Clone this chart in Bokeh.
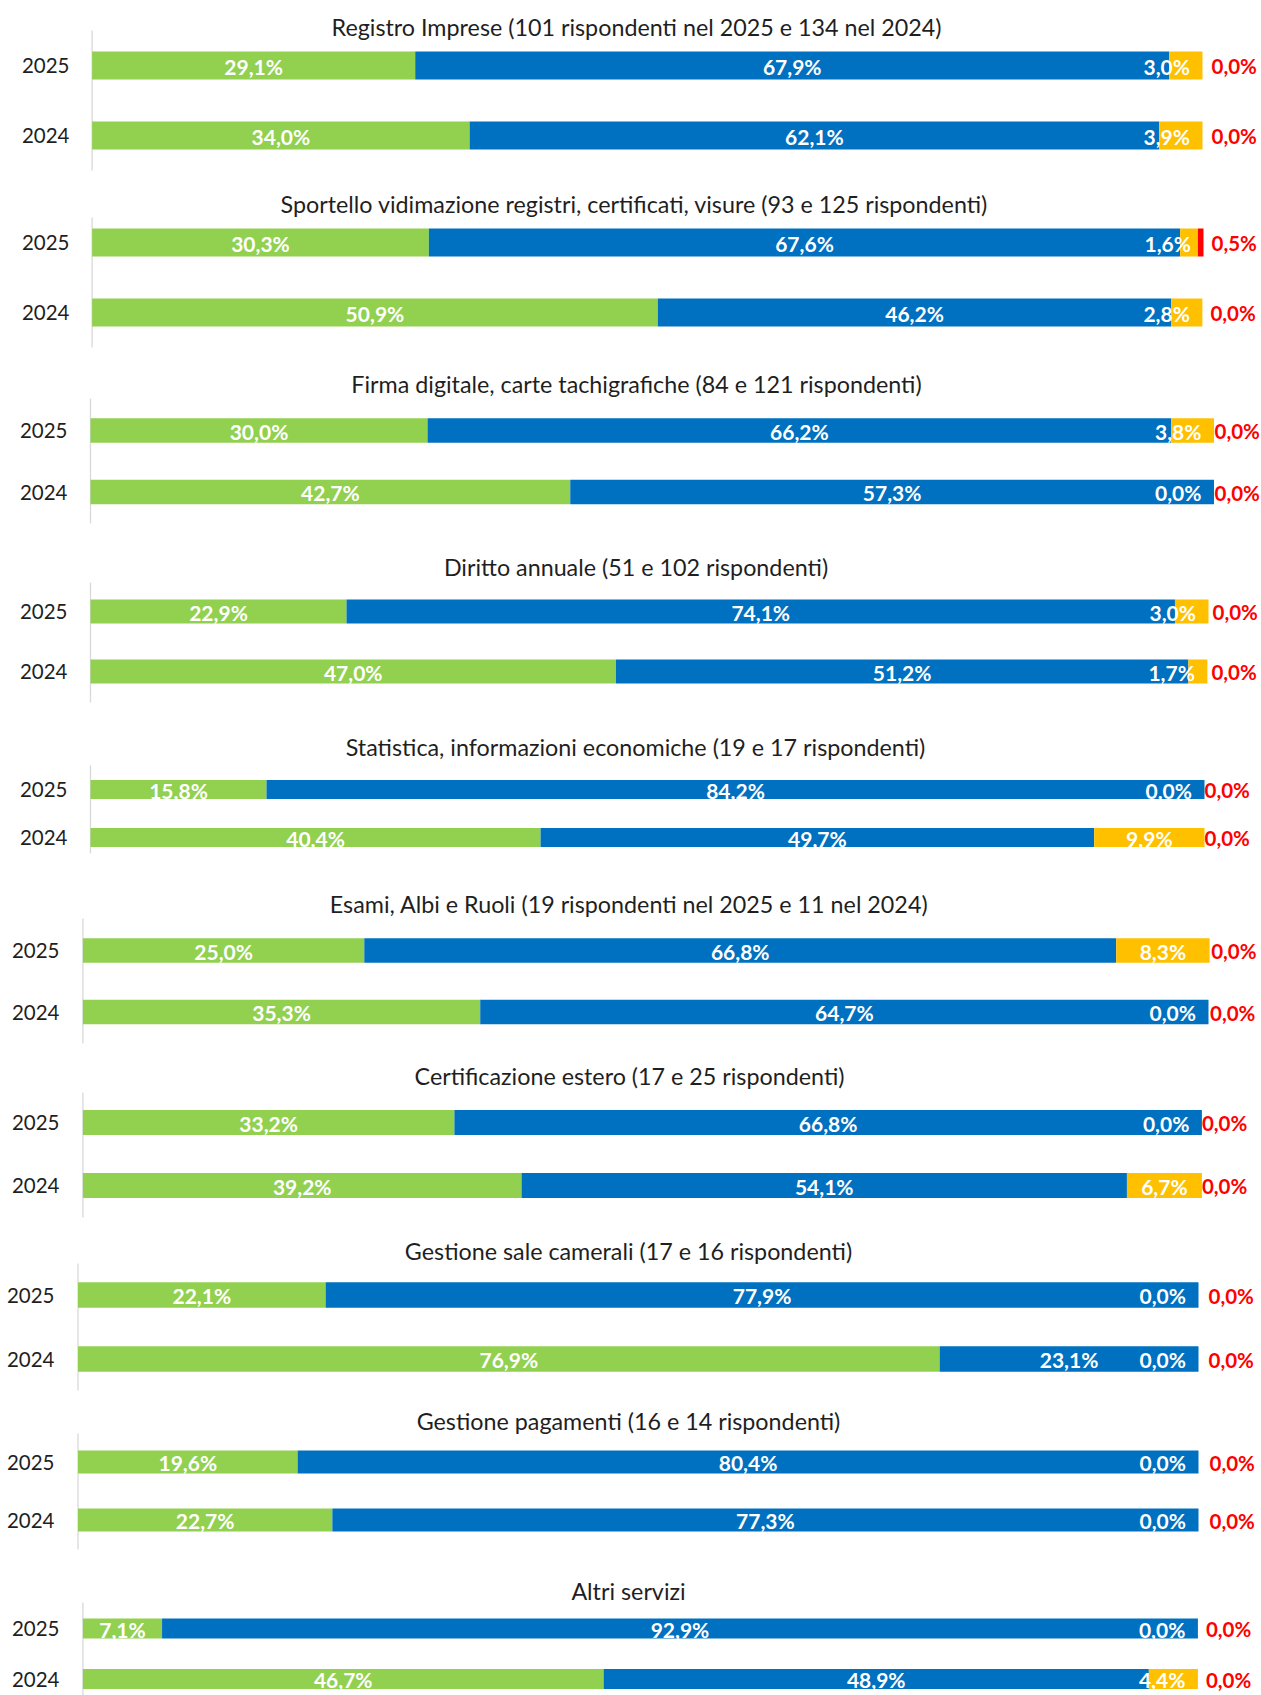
import numpy as np
from bokeh.plotting import figure
from bokeh.layouts import column
from bokeh.models import ColumnDataSource, Range1d, Label, FixedTicker
from bokeh.embed import file_html
from bokeh.resources import INLINE
from bokeh.core.properties import value

# ---------------- data ----------------
titoli = [
    "Registro Imprese (101 rispondenti nel 2025 e 134 nel 2024)",
    "Sportello vidimazione registri, certificati, visure (93 e 125 rispondenti)",
    "Firma digitale, carte tachigrafiche (84 e 121 rispondenti)",
    "Diritto annuale (51 e 102 rispondenti)",
    "Statistica, informazioni economiche (19 e 17 rispondenti)",
    "Esami, Albi e Ruoli (19 rispondenti nel 2025 e 11 nel 2024)",
    "Certificazione estero (17 e 25 rispondenti)",
    "Gestione sale camerali (17 e 16 rispondenti)",
    "Gestione pagamenti (16 e 14 rispondenti)",
    "Altri servizi",
]
anni = ["2025", "2024"]

verde_2025 = [29.1, 30.3, 30.0, 22.9, 15.8, 25.0, 33.2, 22.1, 19.6, 7.1]
verde_2024 = [34.0, 50.9, 42.7, 47.0, 40.4, 35.3, 39.2, 76.9, 22.7, 46.7]
blu_2025 = [67.9, 67.6, 66.2, 74.1, 84.2, 66.8, 66.8, 77.9, 80.4, 92.9]
blu_2024 = [62.1, 46.2, 57.3, 51.2, 49.7, 64.7, 54.1, 23.1, 77.3, 48.9]
giallo_2025 = [3.0, 1.6, 3.8, 3.0, 0.0, 8.3, 0.0, 0.0, 0.0, 0.0]
giallo_2024 = [3.9, 2.8, 0.0, 1.7, 9.9, 0.0, 6.7, 0.0, 0.0, 4.4]
rosso_2025 = [0.0, 0.5, 0.0, 0.0, 0.0, 0.0, 0.0, 0.0, 0.0, 0.0]
rosso_2024 = [0.0, 0.0, 0.0, 0.0, 0.0, 0.0, 0.0, 0.0, 0.0, 0.0]

colori = ["#92D050", "#0070C0", "#FFC000", "#FF0000"]
serie = ["verde", "blu", "giallo", "rosso"]

# ---------------- layout geometry (page pixels) ----------------
axis_x = [91.6, 91.6, 90, 90, 90, 82.4, 82.4, 77.5, 77.5, 82.4]
bar_end = [1202, 1203, 1213.5, 1208, 1204, 1208, 1201.4, 1198, 1198, 1197.4]
c25 = [65, 242, 430, 611, 789, 950, 1122, 1294.5, 1461.5, 1628]
c24 = [135, 312, 491.5, 671, 837, 1011.5, 1185, 1358.5, 1519.5, 1678.5]
axis_top = [30, 217, 398, 582, 765, 918, 1092, 1263, 1433, 1602]
axis_bot = [170, 347, 523, 702, 853, 1043, 1217, 1390, 1549, 1700]
title_cx = [636, 634, 636, 635.5, 635, 628.6, 629, 628, 628, 628]
title_cy = [26.5, 203.5, 383.5, 566.5, 746.5, 903.5, 1075.5, 1250.5, 1420.5, 1590.5]
red_gap = [9, 8, 0.5, 4, 0, 1.5, 0, 10, 11, 8]
bounds = [0, 181, 360, 540, 719, 877, 1054, 1228, 1400, 1565, 1695]
W = 1261
BL = 76          # common frame left (the column layout aligns frames)
STANDOFF = 23    # gap between year label and the 0 % line

FONT = "Lato"
LBL_SIZE = "21px"
RED_SIZE = "20.5px"
TXT = "#1f1f1f"


def fmt(v):
    return f"{v:.1f}".replace(".", ",") + "%"


pos = [len(anni) - 1 - k for k in range(len(anni))]  # category -> row position

figs = []
for i in range(10):
    top, bot = bounds[i], bounds[i + 1]
    H = bot - top
    S = c24[i] - c25[i]
    fw = W - BL
    px_per = (bar_end[i] - axis_x[i]) / 100.0
    xstart = -(axis_x[i] - BL) / px_per
    xend = xstart + fw / px_per
    y0 = (c24[i] - bot) / S
    y1 = (c24[i] - top) / S

    p = figure(width=W, height=H, output_backend="svg", toolbar_location=None,
               title_location=None, x_axis_location=None,
               y_range=Range1d(y0, y1), x_range=Range1d(xstart, xend),
               min_border_left=BL, min_border_right=0,
               min_border_top=0, min_border_bottom=0)
    p.outline_line_color = None
    p.xgrid.visible = False
    p.ygrid.visible = False
    p.background_fill_color = "white"
    p.border_fill_color = "white"

    ax = p.yaxis[0]
    ax.ticker = FixedTicker(ticks=pos)
    ax.major_label_overrides = {pp: a for pp, a in zip(pos, anni)}
    ax.axis_line_color = None
    ax.major_tick_line_color = None
    ax.minor_tick_line_color = None
    ax.major_tick_out = 0
    ax.major_tick_in = 0
    ax.major_label_standoff = round(STANDOFF - (axis_x[i] - BL))
    ax.major_label_text_font = FONT
    ax.major_label_text_font_size = "20.5px"
    ax.major_label_text_color = TXT

    # vertical axis line at 0 %
    p.segment(x0=[0], x1=[0], y0=[(c24[i] - axis_bot[i]) / S], y1=[(c24[i] - axis_top[i]) / S],
              line_color="#d9d9d9", line_width=1.3)

    vals = {
        "verde": [verde_2025[i], verde_2024[i]],
        "blu": [blu_2025[i], blu_2024[i]],
        "giallo": [giallo_2025[i], giallo_2024[i]],
        "rosso": [rosso_2025[i], rosso_2024[i]],
    }
    src = ColumnDataSource(dict(y=pos, **vals))
    p.hbar_stack(serie, y="y", height=0.4, fill_color=colori, line_color=None, source=src)

    v = np.array([vals[s] for s in serie])  # 4 x 2
    cum = np.cumsum(v, axis=0)
    start = cum - v
    centre = start + v / 2

    def lab(xs, ys, ts, color, align="center", xoff=0, size=LBL_SIZE):
        lsrc = ColumnDataSource(dict(x=list(xs), y=list(ys), t=list(ts)))
        p.text(x="x", y="y", text="t", source=lsrc, text_align=align, x_offset=xoff,
               text_baseline="middle", text_color=color, text_font=value(FONT),
               text_font_style="bold", text_font_size=size, y_offset=0.5)

    # green + blue labels, centred in their segment
    for k in (0, 1):
        lab(centre[k], pos, [fmt(a) for a in v[k]], "white")

    # yellow labels: centred, but kept inside the plot area end
    half_w = 24
    fits = [(v[2][j] / 2 + v[3][j]) * px_per >= 12.5 + half_w for j in range(2)]
    c_idx = [j for j in range(2) if fits[j]]
    r_idx = [j for j in range(2) if not fits[j]]
    if c_idx:
        lab([centre[2][j] for j in c_idx], [pos[j] for j in c_idx],
            [fmt(v[2][j]) for j in c_idx], "white")
    if r_idx:
        lab([cum[3][j] for j in r_idx], [pos[j] for j in r_idx],
            [fmt(v[2][j]) for j in r_idx], "white", align="right", xoff=-12.5)

    # red labels, outside the bar end
    lab(cum[3], pos, [fmt(a) for a in v[3]], "#FF0000", align="left", xoff=red_gap[i],
        size=RED_SIZE)

    # panel title
    p.add_layout(Label(x=title_cx[i] - BL, y=bot - title_cy[i],
                       x_units="screen", y_units="screen", text=titoli[i],
                       text_align="center", text_baseline="middle",
                       text_font=FONT, text_font_size="23.3px", text_color=TXT))
    figs.append(p)

layout = column(*figs, spacing=0)
open("out.html", "w").write(file_html(layout, INLINE))
